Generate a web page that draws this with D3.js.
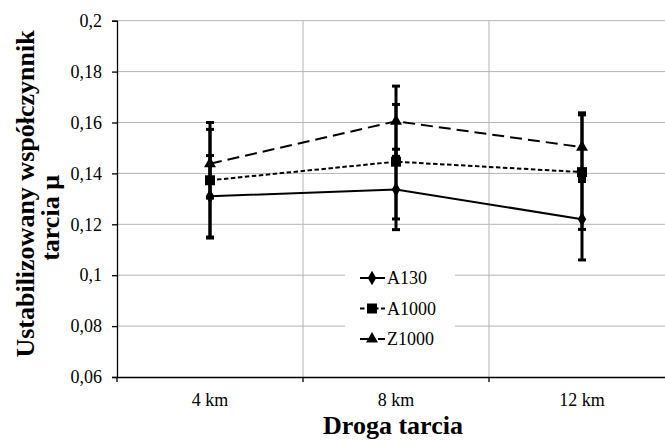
<!DOCTYPE html>
<html>
<head>
<meta charset="utf-8">
<script src="https://cdn.jsdelivr.net/npm/d3@7"></script>
<style>
body { margin: 0; background: #fff; }
svg { display: block; }
svg text { font-family: "Liberation Serif", "Times New Roman", serif; }
</style>
</head>
<body>
<svg id="chart"></svg>
<script>
// data
var categories = ["4 km", "8 km", "12 km"];
var seriesNames = ["A130", "A1000", "Z1000"];
var valA130 = [0.131, 0.1337, 0.122];
var errA130 = [0.016, 0.0158, 0.016];
var valA1000 = [0.1373, 0.1446, 0.1405];
var errA1000 = [0.0227, 0.0225, 0.0225];
var valZ1000 = [0.1438, 0.1605, 0.1503];
var errZ1000 = [0.0135, 0.0138, 0.0135];
var yTicks = [0.06, 0.08, 0.1, 0.12, 0.14, 0.16, 0.18, 0.2];
var yTickLabels = ["0,06", "0,08", "0,1", "0,12", "0,14", "0,16", "0,18", "0,2"];

var width = 665, height = 440;
var plotLeft = 117, plotRight = 675, plotTop = 20.7, plotBottom = 377;
var serif = "'Liberation Serif', 'Times New Roman', serif";

var svg = d3.select("#chart").attr("width", width).attr("height", height);

var x = d3.scaleBand().domain(categories).range([plotLeft, plotRight]);
var y = d3.scaleLinear().domain([0.06, 0.2]).range([plotBottom, plotTop]);

var series = [
  {name: seriesNames[0], vals: valA130, errs: errA130, sym: d3.symbolDiamond, size: 62, dash: null},
  {name: seriesNames[1], vals: valA1000, errs: errA1000, sym: d3.symbolSquare, size: 100, dash: "4.5,2.5"},
  {name: seriesNames[2], vals: valZ1000, errs: errZ1000, sym: d3.symbolTriangle, size: 62, dash: "12,6"}
];

// gridlines
svg.append("g").selectAll("line")
  .data(yTicks.slice(1))
  .enter().append("line")
  .attr("x1", plotLeft).attr("x2", plotRight)
  .attr("y1", function(d) { return y(d); })
  .attr("y2", function(d) { return y(d); })
  .attr("stroke", "#b4b4b4").attr("stroke-width", 1);

svg.append("g").selectAll("line")
  .data(categories.slice(1))
  .enter().append("line")
  .attr("x1", function(d) { return x(d); })
  .attr("x2", function(d) { return x(d); })
  .attr("y1", plotTop).attr("y2", plotBottom)
  .attr("stroke", "#b4b4b4").attr("stroke-width", 1);

// axes
var yAxis = svg.append("g")
  .attr("transform", "translate(" + plotLeft + ",0)")
  .call(d3.axisLeft(y).tickValues(yTicks)
    .tickFormat(function(d, i) { return yTickLabels[i]; })
    .tickSize(5).tickPadding(10));
yAxis.attr("font-family", serif);
yAxis.selectAll("text").attr("font-size", "18px").attr("fill", "#000");
yAxis.selectAll("path, line").attr("stroke", "#000").attr("stroke-width", 1.3);

var xAxis = svg.append("g")
  .attr("transform", "translate(0," + plotBottom + ")")
  .call(d3.axisBottom(x).tickSize(0).tickPadding(16).tickSizeOuter(0));
xAxis.attr("font-family", serif);
xAxis.selectAll("text").attr("font-size", "18px").attr("fill", "#000");
xAxis.select(".domain").attr("stroke", "#000").attr("stroke-width", 1.3);
xAxis.selectAll("line.bound")
  .data(categories.concat(["end"]))
  .enter().append("line")
  .attr("class", "bound")
  .attr("x1", function(d, i) { return i < categories.length ? x(d) : plotRight; })
  .attr("x2", function(d, i) { return i < categories.length ? x(d) : plotRight; })
  .attr("y1", 0).attr("y2", 5)
  .attr("stroke", "#000").attr("stroke-width", 1.3);

var cx = function(i) { return x(categories[i]) + x.bandwidth() / 2; };

// error bars
series.forEach(function(s) {
  var g = svg.append("g");
  g.selectAll("line.bar").data(s.vals).enter().append("line")
    .attr("x1", function(d, i) { return cx(i); })
    .attr("x2", function(d, i) { return cx(i); })
    .attr("y1", function(d, i) { return y(d + s.errs[i]); })
    .attr("y2", function(d, i) { return y(d - s.errs[i]); })
    .attr("stroke", "#000").attr("stroke-width", 3);
  [1, -1].forEach(function(sign) {
    g.selectAll(null).data(s.vals).enter().append("line")
      .attr("x1", function(d, i) { return cx(i) - 4; })
      .attr("x2", function(d, i) { return cx(i) + 4; })
      .attr("y1", function(d, i) { return y(d + sign * s.errs[i]); })
      .attr("y2", function(d, i) { return y(d + sign * s.errs[i]); })
      .attr("stroke", "#000").attr("stroke-width", 3);
  });
});

// lines and markers
var line = d3.line()
  .x(function(d, i) { return cx(i); })
  .y(function(d) { return y(d); });

series.forEach(function(s) {
  svg.append("path")
    .attr("d", line(s.vals))
    .attr("fill", "none").attr("stroke", "#000").attr("stroke-width", 2)
    .attr("stroke-dasharray", s.dash);
  svg.append("g").selectAll("path").data(s.vals).enter().append("path")
    .attr("d", d3.symbol().type(s.sym).size(s.size))
    .attr("transform", function(d, i) { return "translate(" + cx(i) + "," + y(d) + ")"; })
    .attr("fill", "#000");
});

// legend
var legend = svg.append("g");
legend.append("rect")
  .attr("x", 345).attr("y", 262).attr("width", 110).attr("height", 90)
  .attr("fill", "#fff");
series.forEach(function(s, i) {
  var ly = 278 + i * 30.5;
  legend.append("line")
    .attr("x1", 360).attr("x2", 385).attr("y1", ly).attr("y2", ly)
    .attr("stroke", "#000").attr("stroke-width", 2)
    .attr("stroke-dasharray", s.dash);
  legend.append("path")
    .attr("d", d3.symbol().type(s.sym).size(s.size))
    .attr("transform", "translate(372," + ly + ")")
    .attr("fill", "#000");
  legend.append("text")
    .attr("x", 387).attr("y", ly + 6)
    .attr("font-size", "18px")
    .text(s.name);
});

// titles
svg.append("text")
  .attr("x", 393).attr("y", 434)
  .attr("text-anchor", "middle")
  .attr("font-size", "26px").attr("font-weight", "bold")
  .text("Droga tarcia");

svg.append("text")
  .attr("transform", "translate(34,194) rotate(-90)")
  .attr("text-anchor", "middle")
  .attr("font-size", "26px").attr("font-weight", "bold")
  .text("Ustabilizowany współczynnik");
svg.append("text")
  .attr("transform", "translate(59,218) rotate(-90)")
  .attr("text-anchor", "middle")
  .attr("font-size", "26px").attr("font-weight", "bold")
  .text("tarcia μ");
</script>
</body>
</html>
